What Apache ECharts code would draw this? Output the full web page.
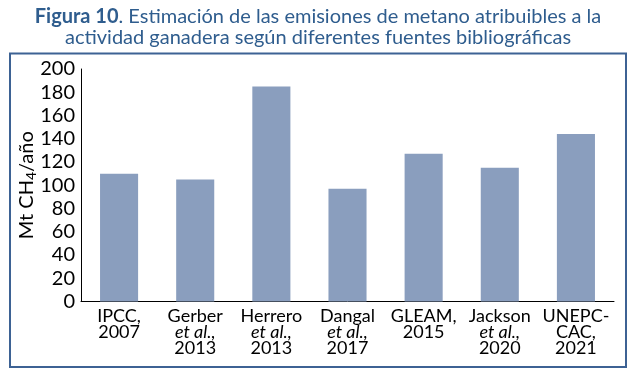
<!DOCTYPE html>
<html>
<head>
<meta charset="utf-8">
<script src="https://cdn.jsdelivr.net/npm/echarts@6/dist/echarts.min.js"></script>
<style>
  html, body { margin: 0; padding: 0; background: #fff; }
  #chart { width: 635px; height: 376px; }
</style>
</head>
<body>
<div id="chart"></div>
<script>
// fuentes bibliográficas (eje x)
const categories = [
  "IPCC,\n2007",
  "Gerber\n{i|et al.,}\n2013",
  "Herrero\n{i|et al.,}\n2013",
  "Dangal\n{i|et al.,}\n2017",
  "GLEAM,\n2015",
  "Jackson\n{i|et al.,}\n2020",
  "UNEPC-\nCAC,\n2021"
];
// Mt CH4/año
const values = [110, 105, 185, 97, 127, 115, 144];
const yTicks = [0, 20, 40, 60, 80, 100, 120, 140, 160, 180, 200];

const fontFamily = "Lato, 'Noto Sans', sans-serif";
const blue = "#2f5d8e";

const myChart = echarts.init(document.getElementById("chart"));

const option = {
  animation: false,
  graphic: [
    {
      type: "text",
      x: 318,
      y: 17,
      silent: true,
      style: {
        text: "{b|Figura 10}. Estimación de las emisiones de metano atribuibles a la",
        align: "center",
        verticalAlign: "middle",
        fontFamily: fontFamily,
        fontSize: 20,
        fill: blue,
        rich: {
          b: { fontFamily: fontFamily, fontSize: 20, fontWeight: "bold", fill: blue }
        }
      }
    },
    {
      type: "text",
      x: 318,
      y: 38,
      silent: true,
      style: {
        text: "actividad ganadera según diferentes fuentes bibliográficas",
        align: "center",
        verticalAlign: "middle",
        fontFamily: fontFamily,
        fontSize: 20,
        fill: blue
      }
    },
    {
      type: "rect",
      shape: { x: 10, y: 53.5, width: 616, height: 313.5 },
      style: { fill: null, stroke: "#3d6294", lineWidth: 2 },
      silent: true
    }
  ],
  grid: { left: 81, right: 21, top: 69, bottom: 74.5 },
  xAxis: {
    type: "category",
    data: categories,
    axisLine: { lineStyle: { color: "#000", width: 1 } },
    axisTick: { show: false },
    axisLabel: {
      interval: 0,
      margin: 7,
      color: "#000",
      fontFamily: fontFamily,
      fontSize: 18,
      lineHeight: 16,
      rich: {
        i: { fontFamily: fontFamily, fontSize: 18, fontStyle: "italic", color: "#000", lineHeight: 16 }
      }
    }
  },
  yAxis: {
    type: "value",
    min: yTicks[0],
    max: yTicks[yTicks.length - 1],
    interval: 20,
    name: "Mt CH{s|4}/año",
    nameLocation: "middle",
    nameRotate: 90,
    nameGap: 43,
    nameMoveOverlap: false,
    nameTextStyle: {
      fontFamily: fontFamily,
      fontSize: 20,
      color: "#000",
      rich: {
        s: { fontFamily: fontFamily, fontSize: 14, color: "#000", padding: [8, 0, 0, 0] }
      }
    },
    axisLine: { show: true, lineStyle: { color: "#000", width: 1 } },
    axisTick: { show: false },
    splitLine: { show: false },
    axisLabel: {
      margin: 6,
      color: "#000",
      fontFamily: fontFamily,
      fontSize: 20
    }
  },
  series: [
    {
      type: "bar",
      data: values,
      barWidth: "50%",
      itemStyle: { color: "#8a9ebe" }
    }
  ]
};

myChart.setOption(option);
</script>
</body>
</html>
